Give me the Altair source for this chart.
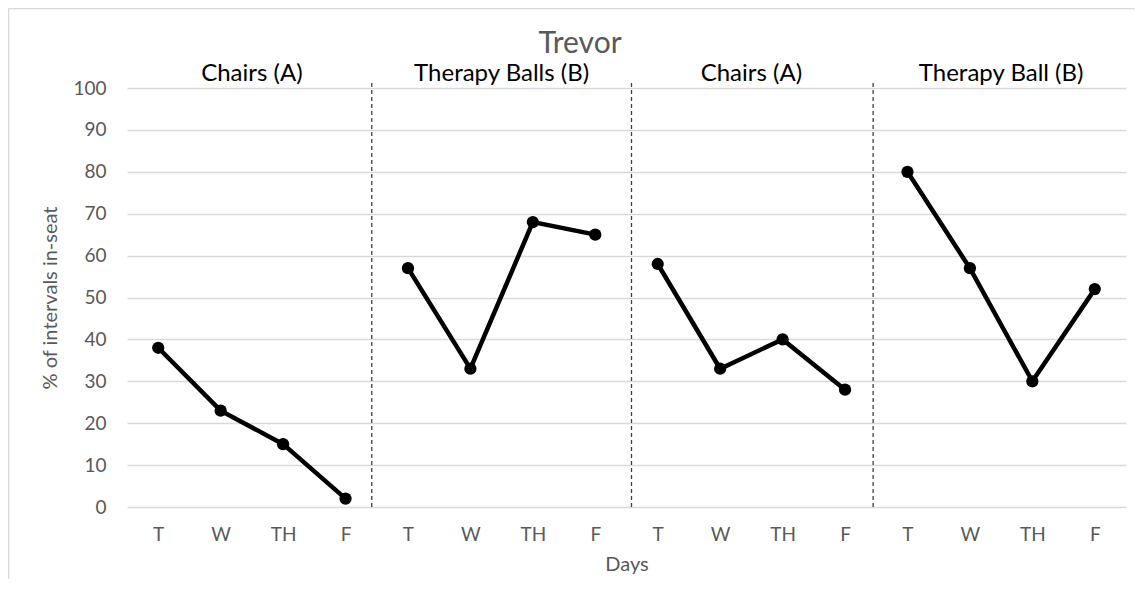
import altair as alt
import pandas as pd

# ---- data ----
days = ["T", "W", "TH", "F"]
phases = ["Chairs (A)", "Therapy Balls (B)", "Chairs (A)", "Therapy Ball (B)"]
chairs_a1 = [38, 23, 15, 2]
balls_b1 = [57, 33, 68, 65]
chairs_a2 = [58, 33, 40, 28]
balls_b2 = [80, 57, 30, 52]
phase_boundaries = [3.42, 7.58, 11.45]
title_text = "Trevor"
y_title = "% of intervals in-seat"
x_title = "Days"

series = [chairs_a1, balls_b1, chairs_a2, balls_b2]
rows = []
for p, vals in enumerate(series):
    for d, v in enumerate(vals):
        rows.append({"idx": p * len(days) + d, "day": days[d], "phase": p, "value": v})
df = pd.DataFrame(rows)

phase_df = pd.DataFrame({
    "phase": phases,
    "center": [p * len(days) + (len(days) - 1) / 2 for p in range(len(phases))],
})
bound_df = pd.DataFrame({"b": phase_boundaries, "top": [101.2] * 3, "bottom": [0] * 3})

FONT = "Lato"
GREY = "#595959"
W, H = 999, 419

xscale = alt.Scale(domain=[-0.5, 15.5], nice=False, zero=False)
yscale = alt.Scale(domain=[0, 100], nice=False)
label_expr = "[" + ",".join(f"'{d}'" for d in days) + f"][datum.value % {len(days)}]"

base = alt.Chart(df)

lines = base.mark_line(color="black", strokeWidth=4.5).encode(
    x=alt.X("idx:Q", scale=xscale,
            axis=alt.Axis(values=list(range(16)), labelExpr=label_expr, grid=False,
                          domain=False, ticks=False, labelPadding=18, title=x_title,
                          titlePadding=10)),
    y=alt.Y("value:Q", scale=yscale,
            axis=alt.Axis(values=list(range(0, 101, 10)), grid=True, domain=False,
                          ticks=False, labelPadding=21, title=y_title, titlePadding=12)),
    detail="phase:N",
)
points = base.mark_circle(color="black", size=150, opacity=1).encode(
    x=alt.X("idx:Q", scale=xscale),
    y=alt.Y("value:Q", scale=yscale),
)

rules = alt.Chart(bound_df).mark_rule(color="#404040", strokeDash=[4, 3], strokeWidth=1.3).encode(
    x=alt.X("b:Q", scale=xscale),
    y=alt.Y("bottom:Q", scale=yscale),
    y2="top:Q",
)

phase_text = alt.Chart(phase_df).mark_text(
    font=FONT, fontSize=24, color="black", baseline="alphabetic"
).encode(
    x=alt.X("center:Q", scale=xscale),
    y=alt.value(-7),
    text="phase:N",
)

title = alt.Chart(pd.DataFrame({"t": [title_text]})).mark_text(
    font=FONT, fontSize=30, color=GREY, baseline="alphabetic"
).encode(x=alt.value(453), y=alt.value(-35), text="t:N")

border_left = alt.Chart(pd.DataFrame({"a": [0]})).mark_rule(color="#d9d9d9", strokeWidth=1.5).encode(
    x=alt.value(-118.5), y=alt.value(-79.5), y2=alt.value(H + 90))
border_top = alt.Chart(pd.DataFrame({"a": [0]})).mark_rule(color="#d9d9d9", strokeWidth=1.5).encode(
    x=alt.value(-118.5), x2=alt.value(W + 20), y=alt.value(-79.5))

chart = alt.layer(border_left, border_top, rules, lines, points, phase_text, title).properties(
    width=W, height=H,
    autosize=alt.AutoSizeParams(type="none"),
    padding={"left": 119, "top": 80, "right": 9, "bottom": 72},
).configure_view(stroke=None).configure_axis(
    labelFont=FONT, labelFontSize=19, labelColor=GREY,
    titleFont=FONT, titleFontSize=20, titleColor=GREY, titleFontWeight="normal",
    gridColor="#d9d9d9", gridWidth=1.3,
)

chart.save("out.html", embed_options={"renderer": "svg", "actions": False})
